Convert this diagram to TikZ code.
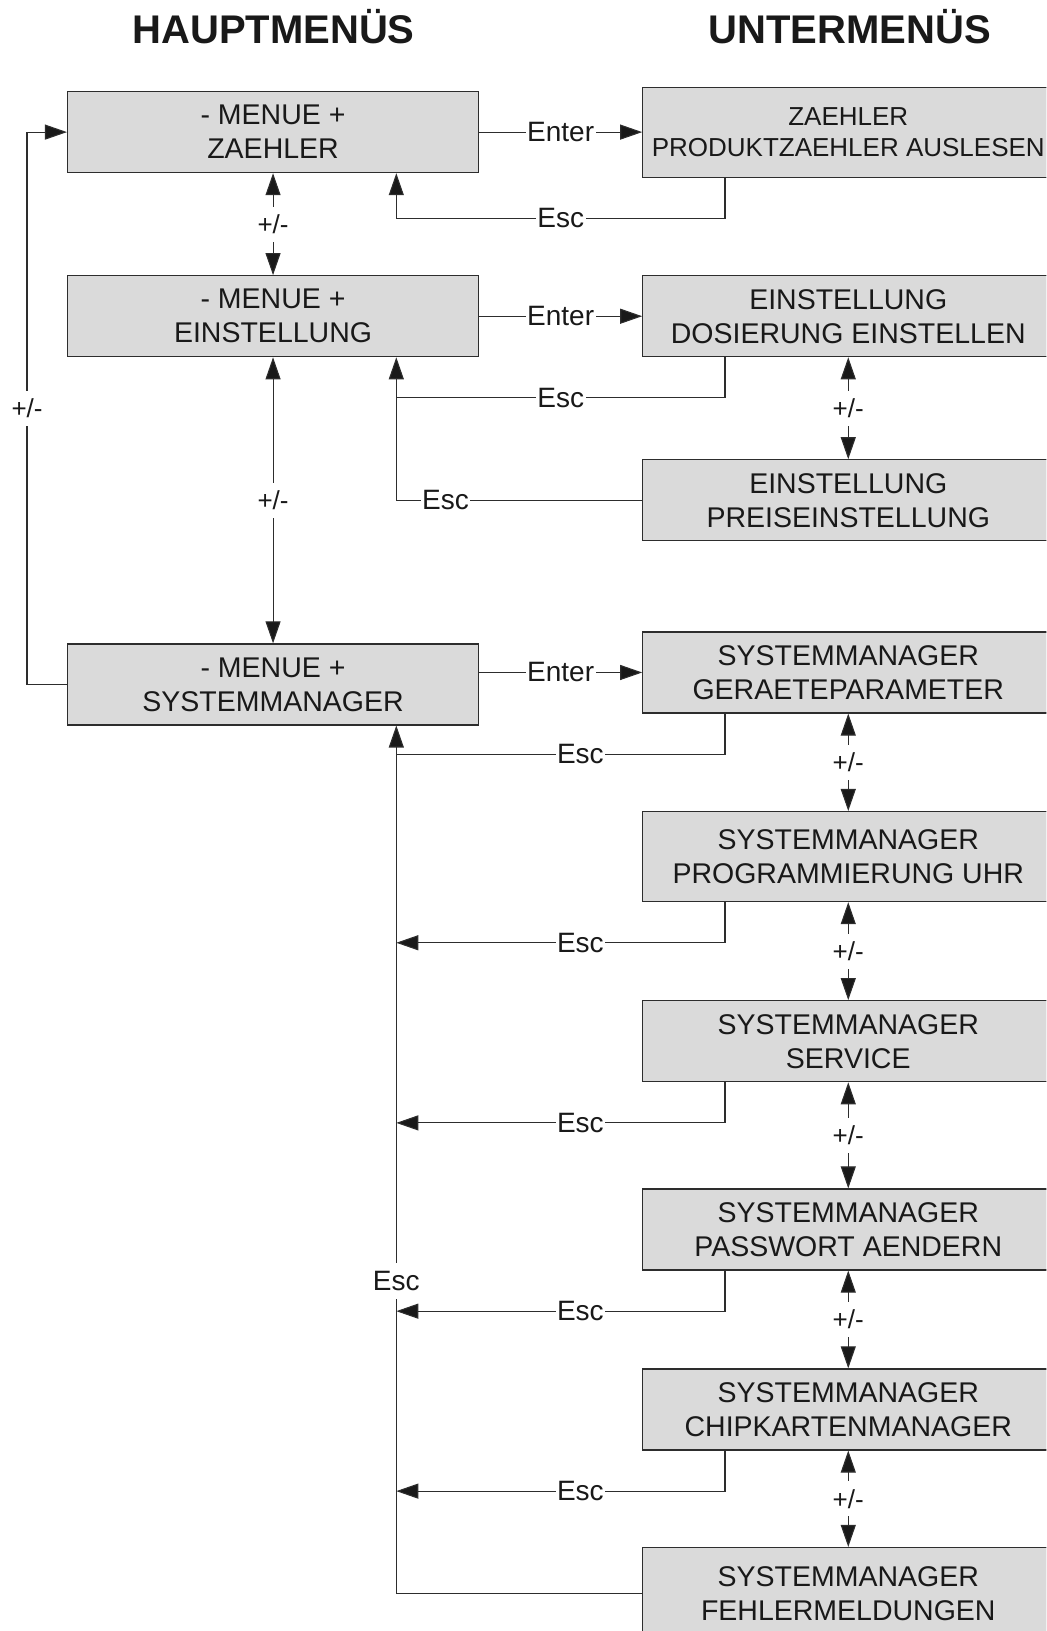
\documentclass[tikz,border=0pt]{standalone}
\usepackage{fontspec}
\setmainfont{Liberation Sans}
\usetikzlibrary{arrows.meta}

\definecolor{boxgray}{RGB}{218,218,218}
\definecolor{linegray}{RGB}{45,45,45}

\begin{document}
\begin{tikzpicture}
  [x=1.0402pt,y=-1.0402pt,
   every node/.style={text=black!90},
   menu/.style={draw=linegray,fill=boxgray,line width=1.2pt,minimum width=411pt,minimum height=81pt,inner sep=0pt,align=center,font=\fontsize{28.5}{34}\selectfont},
   lbl/.style={fill=white,inner xsep=1.5pt,inner ysep=8pt,font=\fontsize{28}{30}\selectfont},
   pm/.style={lbl,font=\fontsize{26}{28}\selectfont},
   conn/.style={draw=linegray,line width=1.1pt},
   tip/.style={conn,-{Triangle[length=22pt,width=15pt,fill=black!90]}},
   both/.style={conn,{Triangle[length=22pt,width=15pt,fill=black!90]}-{Triangle[length=22pt,width=15pt,fill=black!90]}},
   title/.style={font=\fontsize{40}{44}\selectfont\bfseries}]
  \clip (0,0) rectangle (1006,1568);
  \node[title,anchor=base] (th) at (263,42) {HAUPTMENÜS};
  \node[title,anchor=base] (tu) at (817,42) {UNTERMENÜS};
  % main menus
  \node[menu] (m1) at (262.5,127) {- MENUE +\\ZAEHLER};
  \node[menu] (m2) at (262.5,304) {- MENUE +\\EINSTELLUNG};
  \node[menu] (m3) at (262.5,658) {- MENUE +\\SYSTEMMANAGER};
  % sub menus
  \node[menu,minimum height=90pt,font=\fontsize{26}{31}\selectfont] (r1) at (815.5,127) {ZAEHLER\\PRODUKTZAEHLER AUSLESEN};
  \node[menu] (r2) at (815.5,304) {EINSTELLUNG\\DOSIERUNG EINSTELLEN};
  \node[menu] (r3) at (815.5,481) {EINSTELLUNG\\PREISEINSTELLUNG};
  \node[menu] (r4) at (815.5,646.5) {SYSTEMMANAGER\\GERAETEPARAMETER};
  \node[menu,minimum height=90pt] (r5) at (815.5,823.5) {SYSTEMMANAGER\\PROGRAMMIERUNG UHR};
  \node[menu] (r6) at (815.5,1001) {SYSTEMMANAGER\\SERVICE};
  \node[menu] (r7) at (815.5,1182) {SYSTEMMANAGER\\PASSWORT AENDERN};
  \node[menu] (r8) at (815.5,1355) {SYSTEMMANAGER\\CHIPKARTENMANAGER};
  \node[menu,minimum height=92pt] (r9) at (815.5,1532) {SYSTEMMANAGER\\FEHLERMELDUNGEN};
  \coordinate (escl) at (381,0);
  \coordinate (escr) at (697,0);
  \coordinate (loop) at (26,0);
  % enter
  \foreach \m/\r in {m1/r1,m2/r2,m3/r4}
    \draw[tip] (\m.east |- \r.west) -- node[lbl]{Enter} (\r.west);
  % +/-
  \draw[both] (m1.south) -- node[pm]{+/-} (m2.north);
  \draw[both] (m2.south) -- node[pm]{+/-} (m3.north);
  \foreach \a/\b in {r2/r3,r4/r5,r5/r6,r6/r7,r7/r8,r8/r9}
    \draw[both] (\a.south) -- node[pm]{+/-} (\b.north);
  \draw[tip] (m3.west) -- (m3.west -| loop) |- node[pm,pos=.25]{+/-} (m1.west);
  % esc
  \draw[tip] (r1.south -| escr) -- ++(0,39) -- node[lbl]{Esc} ++(-316,0) -- (m1.south -| escl);
  \draw[conn] (r2.south -| escr) -- ++(0,39) -- node[lbl]{Esc} ++(-316,0);
  \draw[tip] (r3.west) -| node[lbl,pos=.4]{Esc} (m2.south -| escl);
  \draw[conn] (r4.south -| escr) -- ++(0,39) -- node[lbl,pos=.44]{Esc} ++(-316,0);
  \foreach \r in {r5,r6,r7,r8}
    \draw[tip] (\r.south -| escr) -- ++(0,39) -- node[lbl,pos=.44]{Esc} ++(-316,0);
  \draw[tip] (r9.west) -| node[lbl,pos=.68]{Esc} (m3.south -| escl);
\end{tikzpicture}
\end{document}
